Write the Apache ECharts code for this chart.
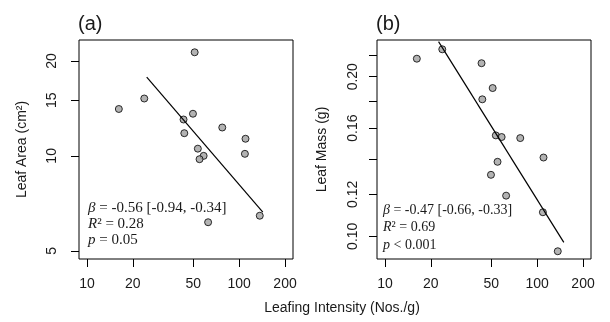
<!DOCTYPE html>
<html>
<head>
<meta charset="utf-8">
<script src="https://cdn.jsdelivr.net/npm/echarts@6/dist/echarts.min.js"></script>
<style>
  html, body { margin: 0; padding: 0; background: #fff; }
  #chart { width: 610px; height: 322px; }
</style>
</head>
<body>
<div id="chart"></div>
<script>
// leafing intensity (Nos./g), one entry per tree, shared by both panels
var intensity = [16.2, 23.8, 51.0, 43.1, 49.7, 43.6, 77.4, 53.5, 58.4, 54.9, 110, 109, 136.5, 62.5];
// panel (a) leaf area (cm2)
var leafArea = [14.08, 15.2, 21.3, 13.04, 13.6, 11.8, 12.3, 10.54, 10.0, 9.76, 11.33, 10.15, 6.46, 6.16];
// panel (b) leaf mass (g)
var leafMass = [0.2163, 0.2253, 0.1904, 0.2121, 0.1306, 0.1813, 0.1532, 0.155, 0.1539, 0.1382, 0.1408, 0.111, 0.0937, 0.1193];

// fitted lines (end points)
var fitAreaX = [24.7, 142.9];
var fitAreaY = [17.76, 6.63];
var fitMassX = [22.5, 149.5];
var fitMassY = [0.2329, 0.0974];

// axis limits and ticks (log scale)
var xRange = [8.87, 225.6];
var areaRange = [4.71, 23.3];
var massRange = [0.0906, 0.2346];
var xTicks = [10, 20, 50, 100, 200];
var areaTicks = [5, 10, 15, 20];
var massTicks = [0.10, 0.12, 0.14, 0.16, 0.18, 0.20, 0.22];
var massLabels = [0.10, 0.12, 0.16, 0.20];

var statsA = ['{i|β} = -0.56 [-0.94, -0.34]', '{i|R}² = 0.28', '{i|p} = 0.05'];
var statsB = ['{i|β} = -0.47 [-0.66, -0.33]', '{i|R}² = 0.69', '{i|p} < 0.001'];

var lg = Math.log10;
var SANS = 'Liberation Sans, Arial, sans-serif';
var SERIF = 'Liberation Serif, Times New Roman, serif';

function pairs(xs, ys) {
  return xs.map(function (x, i) { return [lg(x), lg(ys[i])]; });
}

function xAxisDef(gi) {
  return {
    type: 'value', gridIndex: gi,
    min: lg(xRange[0]), max: lg(xRange[1]),
    splitLine: { show: false },
    axisLine: { show: false },
    axisTick: { show: true, length: 8, customValues: xTicks.map(lg), lineStyle: { color: '#000' } },
    axisLabel: {
      customValues: xTicks.map(lg), margin: 18,
      fontSize: 14, fontFamily: SANS, color: '#1a1a1a',
      formatter: function (v) { return String(Math.round(Math.pow(10, v))); }
    }
  };
}

function yAxisDef(gi, range, ticks, labels, name, margin, gap, fmt) {
  return {
    type: 'value', gridIndex: gi,
    min: lg(range[0]), max: lg(range[1]),
    name: name, nameLocation: 'middle', nameGap: gap,
    nameTextStyle: { fontSize: 14, fontFamily: SANS, color: '#1a1a1a' },
    splitLine: { show: false },
    axisLine: { show: false },
    axisTick: { show: true, length: 8, customValues: ticks.map(lg), lineStyle: { color: '#000' } },
    axisLabel: {
      customValues: labels.map(lg), rotate: 90, margin: margin,
      fontSize: 14, fontFamily: SANS, color: '#1a1a1a',
      formatter: fmt
    }
  };
}

function statText(lines, x, y0, step, size) {
  return lines.map(function (t, i) {
    return {
      type: 'text', x: x, y: y0 + i * step,
      style: {
        text: t, fill: '#1a1a1a', fontSize: size, fontFamily: SERIF,
        verticalAlign: 'middle', align: 'left',
        rich: { i: { fontStyle: 'italic', fontSize: size, fontFamily: SERIF, fill: '#1a1a1a' } }
      }
    };
  });
}

var chart = echarts.init(document.getElementById('chart'));

var pointStyle = { color: '#a0a0a0', borderColor: '#000', borderWidth: 1 };

var option = {
  backgroundColor: '#fff',
  animation: false,
  grid: [
    { left: 79, top: 40, width: 214, height: 219, show: true, borderColor: '#000', borderWidth: 1, backgroundColor: 'transparent' },
    { left: 377, top: 40, width: 214, height: 219, show: true, borderColor: '#000', borderWidth: 1, backgroundColor: 'transparent' }
  ],
  xAxis: [xAxisDef(0), xAxisDef(1)],
  yAxis: [
    yAxisDef(0, areaRange, areaTicks, areaTicks, 'Leaf Area (cm²)', 20, 50,
      function (v) { return String(Math.round(Math.pow(10, v))); }),
    yAxisDef(1, massRange, massTicks, massLabels, 'Leaf Mass (g)', 17, 48,
      function (v) { return Math.pow(10, v).toFixed(2); })
  ],
  series: [
    { type: 'scatter', xAxisIndex: 0, yAxisIndex: 0, symbolSize: 7, itemStyle: pointStyle, data: pairs(intensity, leafArea) },
    { type: 'scatter', xAxisIndex: 1, yAxisIndex: 1, symbolSize: 7, itemStyle: pointStyle, data: pairs(intensity, leafMass) },
    { type: 'line', xAxisIndex: 0, yAxisIndex: 0, showSymbol: false, z: 5, lineStyle: { color: '#000', width: 1.2 }, data: pairs(fitAreaX, fitAreaY) },
    { type: 'line', xAxisIndex: 1, yAxisIndex: 1, showSymbol: false, z: 5, lineStyle: { color: '#000', width: 1.2 }, data: pairs(fitMassX, fitMassY) }
  ],
  graphic: [
    { type: 'text', x: 78, y: 24, style: { text: '(a)', fontSize: 20, fontFamily: SANS, fill: '#1a1a1a', verticalAlign: 'middle' } },
    { type: 'text', x: 376, y: 24, style: { text: '(b)', fontSize: 20, fontFamily: SANS, fill: '#1a1a1a', verticalAlign: 'middle' } },
    { type: 'text', x: 342, y: 308, style: { text: 'Leafing Intensity (Nos./g)', fontSize: 14, fontFamily: SANS, fill: '#1a1a1a', align: 'center', verticalAlign: 'middle' } }
  ].concat(statText(statsA, 88, 208.5, 16, 15)).concat(statText(statsB, 383, 210, 17.5, 14))
};

chart.setOption(option);
window.onresize = function () {
  chart.resize();
};
</script>
</body>
</html>
